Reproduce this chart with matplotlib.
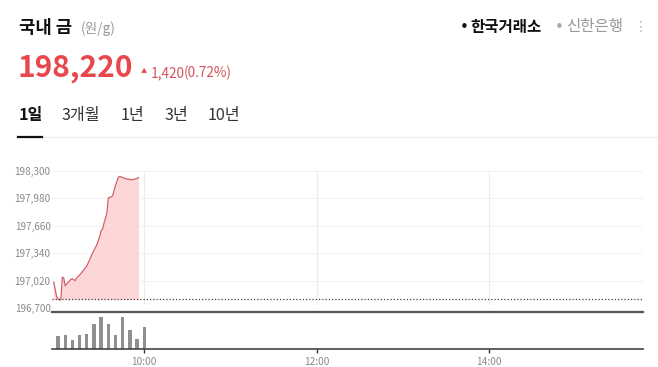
import matplotlib
matplotlib.use("Agg")
import matplotlib.pyplot as plt
from matplotlib.ticker import FixedLocator

plt.rcParams['font.family'] = ['Noto Sans CJK KR', 'DejaVu Sans']

# ---- data ----
title = "국내 금"
unit = "(원/g)"
current_price = 198220
change = 1420
change_pct = 0.72
prev_close = current_price - change

periods = ["1일", "3개월", "1년", "3년", "10년"]
sources = ["한국거래소", "신한은행"]

# intraday price (minutes since midnight, 원/g)
price_times = [537, 539, 541, 542, 543, 544, 545, 547, 549, 550, 552, 553,
               555, 557, 560, 562, 564, 567, 569, 570, 571, 572, 574, 575,
               577, 578, 579, 580, 582, 583, 586, 588, 591, 594, 596]
prices = [197000, 196832, 196790, 196800, 197060, 197046, 196957, 197000,
          197035, 197040, 197019, 197050, 197085, 197124, 197190, 197261,
          197339, 197436, 197533, 197603, 197620, 197689, 197806, 197985,
          197995, 198010, 198070, 198130, 198225, 198235, 198215, 198205,
          198195, 198205, 198220]

# 5-minute traded volume
volume_times = [540, 545, 550, 555, 560, 565, 570, 575, 580, 585, 590, 595, 600]
volumes = [40, 44, 26, 44, 48, 78, 102, 78, 44, 102, 60, 29, 70]

price_ticks = [196700, 197020, 197340, 197660, 197980, 198300]
time_ticks = [600, 720, 840]
time_labels = ["10:00", "12:00", "14:00"]

# ---- figure ----
W, H = 658, 367
fig = plt.figure(figsize=(W / 100, H / 100), dpi=100)
fig.patch.set_facecolor("white")


def fx(x):
    return x / W


def fy(y):
    return 1 - y / H


RED = "#e8474c"
GRAY = "#8a8a8a"

# header
fig.text(fx(19), fy(28), title, fontsize=12.8, fontweight="bold", color="#111111", va="center")
fig.text(fx(81), fy(29), unit, fontsize=9.8, color="#999999", va="center")
fig.text(fx(18), fy(68), f"{current_price:,}", fontsize=21.5, fontweight="bold", color=RED, va="center")
fig.text(fx(140.5), fy(71.5), "▲", fontsize=4.5, color=RED, va="center")
fig.text(fx(151), fy(73), f"{change:,}", fontsize=9.8, color="#d2555a", va="center")
fig.text(fx(184), fy(73), f"({change_pct:.2f}%)", fontsize=9.8, color="#d2555a", va="center")

fig.text(fx(464), fy(27.5), "•", fontsize=11, color="#111111", va="center", ha="center",
         family=["DejaVu Sans"])
fig.text(fx(470), fy(27), sources[0], fontsize=11.2, fontweight="bold", color="#111111", va="center")
fig.text(fx(559), fy(27.5), "•", fontsize=11, color="#aaaaaa", va="center", ha="center",
         family=["DejaVu Sans"])
fig.text(fx(566), fy(27), sources[1], fontsize=11.2, color="#999999", va="center")
fig.text(fx(641), fy(27), "⋮", fontsize=10, color="#bbbbbb", va="center", ha="center",
         family=["DejaVu Sans"])

tab_x = [19, 62, 121, 165, 208]
for i, (lab, x) in enumerate(zip(periods, tab_x)):
    fig.text(fx(x), fy(115.5), lab, fontsize=11.6,
             fontweight="bold" if i == 0 else "normal",
             color="#111111" if i == 0 else "#333333", va="center")

# tab underline
fig.add_artist(plt.Line2D([fx(18), fx(658)], [fy(137.5), fy(137.5)], color="#eeeeee", lw=1))
fig.add_artist(plt.Line2D([fx(18), fx(42)], [fy(137.5), fy(137.5)], color="#111111", lw=1.6))

# ---- price chart ----
xmin, xmax = 535.8, 947.1
left, right = 52, 643
ax = fig.add_axes([fx(left), fy(312), fx(right - left), (312 - 160) / H])
ax.set_xlim(xmin, xmax)
ax.set_ylim(196653, 198426)

ax.fill_between(price_times, prices, prev_close, color="#fdd7d8", lw=0)
ax.plot(price_times, prices, color="#cf5f66", lw=0.9)
ax.axhline(prev_close, color="#444444", lw=0.9, ls=(0, (1, 1.6)))

for v in price_ticks[1:]:
    ax.axhline(v, color="#f3f3f3", lw=0.8, zorder=0)
for t in time_ticks:
    ax.plot([t, t], [196750, 198300], color="#ececec", lw=0.8, zorder=0)

ax.yaxis.set_major_locator(FixedLocator(price_ticks))
ax.set_yticklabels([f"{v:,}" for v in price_ticks])
ax.tick_params(axis="y", length=0, pad=1, labelsize=7.2, labelcolor=GRAY)
ax.set_xticks([])
for s in ["top", "right", "left"]:
    ax.spines[s].set_visible(False)
ax.spines["bottom"].set_color("#555555")
ax.spines["bottom"].set_linewidth(1.6)
ax.patch.set_alpha(0)

# ---- volume chart ----
vax = fig.add_axes([fx(left), fy(348.5), fx(right - left), (348.5 - 313) / H])
vax.set_xlim(xmin, xmax)
vax.set_ylim(0, 113.7)
vax.bar(volume_times, volumes, width=2.3, color="#8f8f8f")
vax.set_yticks([])
vax.set_xticks(time_ticks)
vax.set_xticklabels(time_labels)
vax.tick_params(axis="x", length=3, width=1, color="#333333", pad=3,
                labelsize=7.3, labelcolor=GRAY)
for s in ["top", "right", "left"]:
    vax.spines[s].set_visible(False)
vax.spines["bottom"].set_color("#444444")
vax.spines["bottom"].set_linewidth(1.2)
vax.patch.set_alpha(0)

fig.savefig("out.png", dpi=100, facecolor="white")
